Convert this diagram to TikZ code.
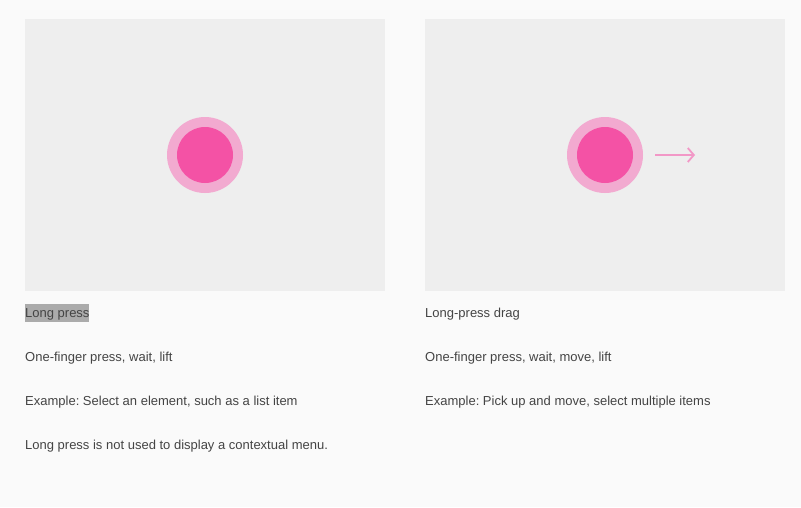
\documentclass[tikz,border=0pt]{standalone}
\usepackage{fontspec}
\setmainfont{Liberation Sans}
\usetikzlibrary{arrows.meta}
\definecolor{pagebg}{HTML}{FAFAFA}
\definecolor{panelbg}{HTML}{EEEEEE}
\definecolor{ringpink}{HTML}{F2AAD0}
\definecolor{dotpink}{HTML}{F452A5}
\definecolor{txt}{HTML}{444444}
\definecolor{hl}{HTML}{ABABAB}
\begin{document}
\frenchspacing
\begin{tikzpicture}[x=1pt,y=-1pt,
  panel/.style={fill=panelbg,draw=none},
  ring/.style={circle,fill=ringpink,minimum size=76pt,inner sep=0pt},
  dot/.style={circle,fill=dotpink,minimum size=56pt,inner sep=0pt},
  captxt/.style={anchor=west,inner sep=0pt,text=txt,font=\fontsize{13}{15}\selectfont},
  arr/.style={draw=ringpink!80!dotpink,line width=1.8pt,-{Straight Barb[length=6pt,width=14pt]}}]
\fill[pagebg] (0,0) rectangle (801,507);
\useasboundingbox (0,0) rectangle (801,507);
\fill[panel] (25,19) rectangle (385,291);
\fill[panel] (425,19) rectangle (785,291);
\node[ring] (r1) at (205,155) {};
\node[dot] (d1) at (205,155) {};
\node[ring] (r2) at (605,155) {};
\node[dot] (d2) at (605,155) {};
\coordinate (a1) at (655,155);
\coordinate (a2) at (695,155);
\draw[arr] (a1) -- (a2);
\fill[hl] (25,304) rectangle (89,322);
\node[captxt] (t1) at (25,314) {Long press};
\node[captxt] (t2) at (25,358) {One-finger press, wait, lift};
\node[captxt] (t3) at (25,402) {Example: Select an element, such as a list item};
\node[captxt] (t4) at (25,446) {Long press is not used to display a contextual menu.};
\node[captxt] (u1) at (425,314) {Long-press drag};
\node[captxt] (u2) at (425,358) {One-finger press, wait, move, lift};
\node[captxt] (u3) at (425,402) {Example: Pick up and move, select multiple items};
\end{tikzpicture}
\end{document}
